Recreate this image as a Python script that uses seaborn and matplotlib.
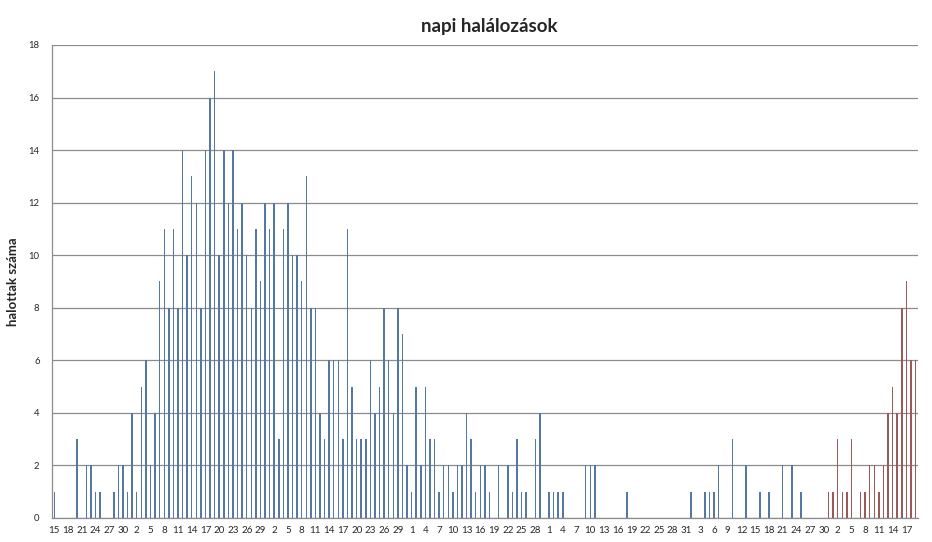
"""Napi halálozások oszlopdiagram (2020. márc. 15 - szept. 19)."""
import matplotlib
matplotlib.use('Agg')
import matplotlib.pyplot as plt
import numpy as np
import pandas as pd
import seaborn as sns

start_date = '2020-03-15'
red_from = '2020-08-31'

deaths_mar = [1, 0, 0, 0, 0, 3, 0, 2, 2, 1, 1, 0, 0, 1, 2, 2, 1]
deaths_apr = [4, 1, 5, 6, 2, 4, 9, 11, 8, 11, 8, 14, 10, 13, 12, 8, 14, 16, 17, 10,
              14, 12, 14, 11, 12, 10, 8, 11, 9, 12]
deaths_may = [11, 12, 3, 11, 12, 10, 10, 9, 13, 8, 8, 4, 3, 6, 6, 6, 3, 11, 5, 3,
              3, 3, 6, 4, 5, 8, 6, 4, 8, 7, 2]
deaths_jun = [1, 5, 2, 5, 3, 3, 1, 2, 2, 1, 2, 2, 4, 3, 1, 2, 2, 1, 0, 2,
              0, 2, 1, 3, 1, 1, 0, 3, 4, 0]
deaths_jul = [1, 1, 1, 1, 0, 0, 0, 0, 2, 2, 2, 0, 0, 0, 0, 0, 0, 1, 0, 0,
              0, 0, 0, 0, 0, 0, 0, 0, 0, 0, 0]
deaths_aug = [1, 0, 0, 1, 1, 1, 2, 0, 0, 3, 0, 0, 2, 0, 0, 1, 0, 1, 0, 0,
              2, 0, 2, 0, 1, 0, 0, 0, 0, 0, 1]
deaths_sep = [1, 3, 1, 1, 3, 0, 1, 1, 2, 2, 1, 2, 4, 5, 4, 8, 9, 6, 6]

title = 'napi halálozások'
ylabel = 'halottak száma'

deaths = deaths_mar + deaths_apr + deaths_may + deaths_jun + deaths_jul + deaths_aug + deaths_sep
dates = pd.date_range(start_date, periods=len(deaths), freq='D')
df = pd.DataFrame({
    'pos': np.arange(len(deaths)),
    'deaths': deaths,
    'wave': np.where(dates >= pd.Timestamp(red_from), 'red', 'blue'),
})

sns.set_style('white')
plt.rcParams['font.family'] = ['Lato', 'DejaVu Sans']

fig = plt.figure(figsize=(9.32, 5.42), dpi=100)
ax = fig.add_axes([0.0558, 0.0443, 0.929, 0.8727])

sns.barplot(data=df, x='pos', y='deaths', hue='wave',
            palette={'blue': '#4677b0', 'red': '#a5504f'},
            dodge=False, width=0.32, legend=False, ax=ax, linewidth=0)

ax.set_xlim(-0.5, len(deaths) - 0.5)
ax.set_ylim(0, 18)
ax.set_yticks(range(0, 19, 2))
ax.yaxis.grid(True, color='#8c8c8c', linewidth=0.9)
ax.set_axisbelow(True)

tick_pos = list(range(0, len(deaths), 3))
ax.set_xticks(tick_pos)
ax.set_xticklabels([str(dates[i].day) for i in tick_pos], fontsize=7)
ax.tick_params(axis='y', labelsize=6.8, length=0, pad=9)
ax.tick_params(axis='x', length=0, pad=6)

for side in ['top', 'right']:
    ax.spines[side].set_visible(False)
for side in ['left', 'bottom']:
    ax.spines[side].set_color('#8c8c8c')
    ax.spines[side].set_linewidth(0.9)

ax.set_xlabel('')
ax.set_ylabel(ylabel, fontsize=9.5, fontweight='bold', labelpad=7)
fig.text(0.525, 0.952, title, ha='center', va='center', fontsize=13.5, fontweight='bold')

fig.savefig('out.png', dpi=100)
